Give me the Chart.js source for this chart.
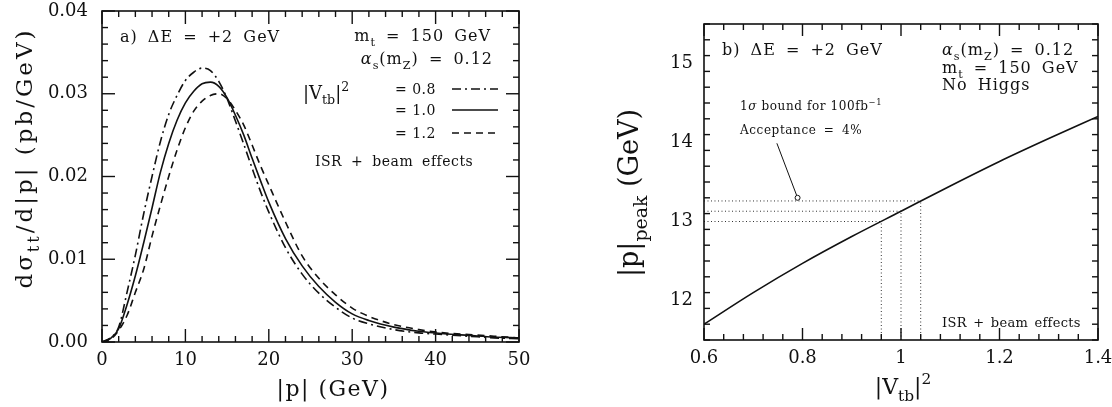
<!DOCTYPE html>
<html>
<head>
<meta charset="utf-8">
<script src="https://cdn.jsdelivr.net/npm/chart.js@4.4.1/dist/chart.umd.min.js"></script>
<style>
  html, body { margin: 0; padding: 0; background: #fff; }
  #wrap { position: relative; width: 1112px; height: 407px; overflow: hidden; }
  #cA { position: absolute; left: 0; top: 0; }
  #cB { position: absolute; left: 545px; top: 0; }
</style>
</head>
<body>
<div id="wrap">
  <canvas id="cA" width="545" height="407"></canvas>
  <canvas id="cB" width="567" height="407"></canvas>
</div>
<script>
// ─── Data: panel a) dσ/d|p| versus |p| ───────────────────────────────────────
const pGrid = [0, 1, 2, 3, 4, 5, 6, 7, 8, 9, 10, 11, 12, 13, 14, 15, 16, 17, 18, 19, 20,
               22, 24, 26, 28, 30, 32, 35, 38, 41, 44, 47, 50];
const vtb08 = [0, 0.0005, 0.0018, 0.0060, 0.0105, 0.0155, 0.0200, 0.0242, 0.0275, 0.0298, 0.0316,
               0.0326, 0.0331, 0.0328, 0.0315, 0.0294, 0.0267, 0.0239, 0.0210, 0.0182, 0.0157,
               0.0114, 0.0082, 0.0059, 0.0042, 0.0029, 0.0022, 0.0015, 0.0011, 0.0009, 0.0007, 0.0005, 0.0004];
const vtb10 = [0, 0.0004, 0.0016, 0.0045, 0.0080, 0.0120, 0.0162, 0.0205, 0.0240, 0.0268, 0.0289,
               0.0303, 0.0312, 0.0314, 0.0309, 0.0295, 0.0274, 0.0250, 0.0222, 0.0195, 0.0169,
               0.0125, 0.0092, 0.0067, 0.0048, 0.0034, 0.0026, 0.0018, 0.0013, 0.0010, 0.0008, 0.0006, 0.0005];
const vtb12 = [0, 0.0003, 0.0014, 0.0032, 0.0060, 0.0088, 0.0128, 0.0165, 0.0200, 0.0232, 0.0259,
               0.0279, 0.0291, 0.0298, 0.0300, 0.0294, 0.0280, 0.0262, 0.0238, 0.0213, 0.0190,
               0.0145, 0.0104, 0.0077, 0.0057, 0.0041, 0.0031, 0.0021, 0.0015, 0.0011, 0.0009, 0.0007, 0.0005];
const vtbLabels = ['= 0.8', '= 1.0', '= 1.2'];

// ─── Data: panel b) |p|peak versus |Vtb|^2 ──────────────────────────────────
const vtbSq = [0.6, 0.7, 0.8, 0.9, 1.0, 1.1, 1.2, 1.3, 1.4];
const pPeak = [11.70, 12.10, 12.47, 12.81, 13.13, 13.45, 13.76, 14.05, 14.33];
const peakTicks = [12, 13, 14, 15];
const boundVtb = [0.96, 1.00, 1.04];      // 1σ band on |Vtb|^2
const boundPeak = [13.00, 13.13, 13.26];  // matching |p|peak values
const arrowVtb = [0.748, 0.790];
const arrowPeak = [13.99, 13.30];

// ─── Style ──────────────────────────────────────────────────────────────────
const INK = '#111';
const SERIF = '"DejaVu Serif", "Liberation Serif", serif';
const DASH_DOT = [9, 4, 2, 4];
const DASHED = [7, 5];
const tickFont = { family: SERIF, size: 18 };

// text made of pieces: [text, kind] with kind '', 'sub', 'sup', 'it'
function richText(ctx, n, x, y, align) {
  const size = n.size;
  const setFont = p => {
    ctx.font = p.font;
    ctx.letterSpacing = (n.spacing || 0) + 'px';
    ctx.wordSpacing = (n.words || 0) + 'px';
  };
  const pieces = n.parts.map(([t, k]) => {
    const small = k === 'sub' || k === 'sup';
    const p = { t, k, font: (k === 'it' ? 'italic ' : '') + (small ? size * 0.7 : size) + 'px ' + SERIF };
    setFont(p);
    p.w = ctx.measureText(t).width;
    return p;
  });
  const total = pieces.reduce((s, p) => s + p.w, 0);
  let cx = align === 'right' ? x - total : align === 'center' ? x - total / 2 : x;
  ctx.textAlign = 'left';
  ctx.textBaseline = 'alphabetic';
  for (const p of pieces) {
    setFont(p);
    const dy = p.k === 'sub' ? size * 0.3 : p.k === 'sup' ? -size * 0.45 : 0;
    ctx.fillText(p.t, cx, y + dy);
    cx += p.w;
  }
  ctx.letterSpacing = '0px';
  ctx.wordSpacing = '0px';
}

// inward ticks on all four sides + frame
const frameTicks = {
  id: 'frameTicks',
  afterDatasetsDraw(chart, args, o) {
    const { ctx, chartArea: a, scales: { x, y } } = chart;
    ctx.save();
    ctx.strokeStyle = INK;
    ctx.lineWidth = 1.4;
    const seg = (x1, y1, x2, y2) => { ctx.beginPath(); ctx.moveTo(x1, y1); ctx.lineTo(x2, y2); ctx.stroke(); };
    const isMajor = (v, step) => Math.abs(v / step - Math.round(v / step)) < 1e-6;
    const nx = Math.round((x.max - x.min) / o.xMinor);
    for (let i = 0; i <= nx; i++) {
      const v = x.min + i * o.xMinor;
      const len = isMajor(v, o.xMajor) ? o.major : o.minor;
      const px = x.getPixelForValue(v);
      seg(px, a.bottom, px, a.bottom - len);
      seg(px, a.top, px, a.top + len);
    }
    const ny = Math.round((y.max - y.min) / o.yMinor);
    for (let i = 0; i <= ny; i++) {
      const v = y.min + i * o.yMinor;
      const len = isMajor(v, o.yMajor) ? o.major : o.minor;
      const py = y.getPixelForValue(v);
      seg(a.left, py, a.left + len, py);
      seg(a.right, py, a.right - len, py);
    }
    ctx.lineWidth = 1.6;
    ctx.strokeRect(a.left, a.top, a.width, a.height);
    ctx.restore();
  }
};

// free text and legend samples, given in canvas pixels
const notes = {
  id: 'notes',
  afterDraw(chart, args, o) {
    const ctx = chart.ctx;
    ctx.save();
    ctx.fillStyle = INK;
    for (const n of o.items) {
      if (n.rotate) {
        ctx.save();
        ctx.translate(n.x, n.y);
        ctx.rotate(-Math.PI / 2);
        richText(ctx, n, 0, n.size * 0.35, 'center');
        ctx.restore();
      } else {
        richText(ctx, n, n.x, n.y, n.align || 'left');
      }
    }
    ctx.strokeStyle = INK;
    ctx.lineWidth = 1.6;
    for (const s of (o.samples || [])) {
      const ds = chart.data.datasets[s.dataset];
      ctx.setLineDash(ds.borderDash || []);
      ctx.beginPath();
      ctx.moveTo(s.x1, s.y);
      ctx.lineTo(s.x2, s.y);
      ctx.stroke();
    }
    ctx.restore();
  }
};

const pts = (xs, ys) => xs.map((v, i) => ({ x: v, y: ys[i] }));
const curve = (data, dash) => ({
  data, borderColor: INK, borderWidth: 1.6, borderDash: dash, pointRadius: 0,
  cubicInterpolationMode: 'monotone', fill: false
});
const noPadX = s => { s.paddingLeft = 0; s.paddingRight = 0; };
const noPadY = s => { s.paddingTop = 0; s.paddingBottom = 0; };

// ─── Panel a) ───────────────────────────────────────────────────────────────
new Chart(document.getElementById('cA'), {
  type: 'line',
  data: {
    datasets: [
      curve(pts(pGrid, vtb08), DASH_DOT),
      curve(pts(pGrid, vtb10), []),
      curve(pts(pGrid, vtb12), DASHED),
    ]
  },
  options: {
    responsive: false,
    animation: false,
    layout: { padding: { top: 11, right: 26, left: 0, bottom: 0 } },
    plugins: {
      legend: { display: false },
      tooltip: { enabled: false },
      frameTicks: { xMajor: 10, xMinor: 2, yMajor: 0.01, yMinor: 0.002, major: 13, minor: 6 },
      notes: {
        items: [
          { x: 120, y: 42, size: 16, spacing: 1, words: 4, parts: [['a) ΔE = +2 GeV']] },
          { x: 491, y: 41, size: 16, spacing: 1, words: 4, align: 'right', parts: [['m'], ['t', 'sub'], [' = 150 GeV']] },
          { x: 493, y: 64, size: 16, spacing: 1, words: 4, align: 'right', parts: [['α', 'it'], ['s', 'sub'], ['(m'], ['Z', 'sub'], [') = 0.12']] },
          { x: 303, y: 99, size: 18, parts: [['|V'], ['tb', 'sub'], ['|'], ['2', 'sup']] },
          { x: 395, y: 94, size: 14, spacing: 0.5, parts: [[vtbLabels[0]]] },
          { x: 395, y: 115, size: 14, spacing: 0.5, parts: [[vtbLabels[1]]] },
          { x: 395, y: 138, size: 14, spacing: 0.5, parts: [[vtbLabels[2]]] },
          { x: 315, y: 166, size: 14, spacing: 0.5, words: 4, parts: [['ISR + beam effects']] },
          { x: 333, y: 396, size: 22, spacing: 1.5, align: 'center', parts: [['|p| (GeV)']] },
          { x: 24, y: 158, size: 23, spacing: 3, rotate: true, parts: [['dσ'], ['tt', 'sub'], ['/d|p| (pb/GeV)']] },
        ],
        samples: [
          { dataset: 0, x1: 452, x2: 498, y: 89 },
          { dataset: 1, x1: 452, x2: 498, y: 110 },
          { dataset: 2, x1: 452, x2: 498, y: 133 },
        ]
      }
    },
    scales: {
      x: {
        type: 'linear', min: 0, max: 50,
        ticks: { stepSize: 10, font: tickFont, color: INK, padding: 8, maxRotation: 0 },
        grid: { display: false, drawTicks: false },
        border: { display: false },
        afterFit(s) { s.height = 65; noPadX(s); }
      },
      y: {
        min: 0, max: 0.04,
        ticks: { stepSize: 0.01, font: tickFont, color: INK, padding: 14, callback: v => v.toFixed(2) },
        grid: { display: false, drawTicks: false },
        border: { display: false },
        afterFit(s) { s.width = 102; noPadY(s); }
      }
    }
  },
  plugins: [frameTicks, notes]
});

// ─── Panel b) ───────────────────────────────────────────────────────────────
const dotted = data => ({
  data, borderColor: '#333', borderWidth: 1, borderDash: [1, 2.5], pointRadius: 0, tension: 0, fill: false
});
const guideSets = [];
boundVtb.forEach((v, i) => {
  guideSets.push(dotted([{ x: 0.6, y: boundPeak[i] }, { x: v, y: boundPeak[i] }]));
  guideSets.push(dotted([{ x: v, y: 11.5 }, { x: v, y: boundPeak[i] }]));
});

new Chart(document.getElementById('cB'), {
  type: 'line',
  data: {
    datasets: [
      { data: pts(vtbSq, pPeak), borderColor: INK, borderWidth: 1.6, pointRadius: 0,
        cubicInterpolationMode: 'monotone', fill: false },
      ...guideSets,
      { data: pts(arrowVtb, arrowPeak), borderColor: INK, borderWidth: 1, tension: 0,
        pointRadius: [0, 2.5], pointBackgroundColor: '#fff', pointBorderColor: INK, pointBorderWidth: 1 }
    ]
  },
  options: {
    responsive: false,
    animation: false,
    layout: { padding: { top: 24, right: 14, left: 0, bottom: 0 } },
    plugins: {
      legend: { display: false },
      tooltip: { enabled: false },
      frameTicks: { xMajor: 0.2, xMinor: 0.04, yMajor: 1, yMinor: 0.2, major: 12, minor: 6 },
      notes: {
        items: [
          { x: 177, y: 55, size: 16, spacing: 1, words: 4, parts: [['b) ΔE = +2 GeV']] },
          { x: 397, y: 55, size: 16, spacing: 1, words: 4, parts: [['α', 'it'], ['s', 'sub'], ['(m'], ['Z', 'sub'], [') = 0.12']] },
          { x: 397, y: 73, size: 16, spacing: 1, words: 4, parts: [['m'], ['t', 'sub'], [' = 150 GeV']] },
          { x: 397, y: 90, size: 16, spacing: 1, words: 4, parts: [['No Higgs']] },
          { x: 195, y: 110, size: 12, spacing: 0.6, words: 2, parts: [['1'], ['σ', 'it'], [' bound for 100fb'], ['−1', 'sup']] },
          { x: 195, y: 134, size: 12, spacing: 0.6, words: 3, parts: [['Acceptance = 4%']] },
          { x: 397, y: 327, size: 13, spacing: 0.3, words: 2, parts: [['ISR + beam effects']] },
          { x: 358, y: 394, size: 22, align: 'center', parts: [['|V'], ['tb', 'sub'], ['|'], ['2', 'sup']] },
          { x: 84, y: 193, size: 27, rotate: true, parts: [['|p|'], ['peak', 'sub'], [' (GeV)']] },
        ]
      }
    },
    scales: {
      x: {
        type: 'linear', min: 0.6, max: 1.4,
        ticks: { stepSize: 0.2, font: tickFont, color: INK, padding: 8, maxRotation: 0,
                 callback: v => String(Number(v.toFixed(1))) },
        grid: { display: false, drawTicks: false },
        border: { display: false },
        afterFit(s) { s.height = 67; noPadX(s); }
      },
      y: {
        min: 11.5, max: 15.5,
        afterBuildTicks(s) { s.ticks = peakTicks.map(v => ({ value: v })); },
        ticks: { font: tickFont, color: INK, padding: 11 },
        grid: { display: false, drawTicks: false },
        border: { display: false },
        afterFit(s) { s.width = 159; noPadY(s); }
      }
    }
  },
  plugins: [frameTicks, notes]
});
</script>
</body>
</html>
